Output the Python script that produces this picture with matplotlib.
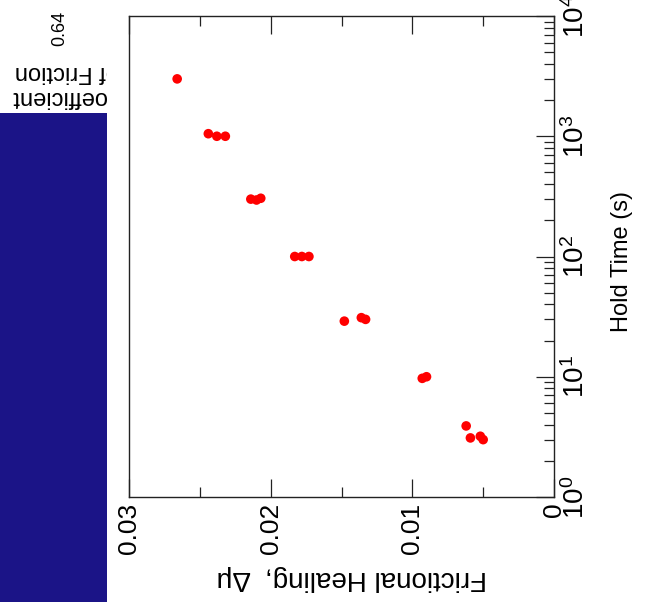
import numpy as np
import matplotlib
matplotlib.use("Agg")
import matplotlib.pyplot as plt
from matplotlib.patches import Rectangle
from matplotlib.ticker import LogLocator, FixedLocator, MultipleLocator, LogFormatterMathtext

plt.rcParams["font.family"] = ["Liberation Sans", "DejaVu Sans"]
plt.rcParams["mathtext.fontset"] = "custom"
plt.rcParams["mathtext.rm"] = "Liberation Sans"
plt.rcParams["mathtext.it"] = "Liberation Sans:italic"

# hold time (s) and frictional healing for each slide-hold-slide test
hold_time = [3000, 1050, 1000, 1000, 300, 295, 305, 100, 100, 100,
             29, 31, 30, 9.7, 10, 3.9, 3.1, 3.2, 3.0]
healing = [0.0266, 0.0244, 0.0238, 0.0232, 0.0214, 0.0210, 0.0207,
           0.0183, 0.0178, 0.0173, 0.0148, 0.0136, 0.0133, 0.0093,
           0.0090, 0.0062, 0.0059, 0.0052, 0.0050]

heal_ticks = [0, 0.01, 0.02, 0.03]
heal_labels = ["0", "0.01", "0.02", "0.03"]

fig = plt.figure(figsize=(6.45, 6.02), dpi=100)

# the panel is drawn turned on its side: healing runs right-to-left, hold time upward
ax = fig.add_axes([129 / 645, 105 / 602, 425 / 645, 481 / 602])
ax.scatter(healing, hold_time, s=48, color="#ff0000", edgecolors="none", zorder=3)

ax.set_xlim(0.03, 0)
ax.set_ylim(1, 1e4)
ax.set_yscale("log")

ax.xaxis.set_major_locator(FixedLocator(heal_ticks))
ax.set_xticklabels(heal_labels)
ax.xaxis.set_minor_locator(MultipleLocator(0.005))
ax.yaxis.set_major_locator(LogLocator(base=10, numticks=10))
ax.yaxis.set_minor_locator(LogLocator(base=10, subs=np.arange(2, 10), numticks=10))
ax.yaxis.set_major_formatter(LogFormatterMathtext())

ax.yaxis.tick_right()
ax.yaxis.set_label_position("right")
ax.tick_params(which="both", direction="in", top=True, bottom=True, left=False, right=True,
               width=0.9, color="#222222")
ax.tick_params(which="major", length=13, pad=4)
ax.tick_params(axis="x", which="major", labelsize=19)
ax.tick_params(axis="y", which="major", labelsize=20, pad=6)
ax.tick_params(which="minor", length=7)
for lab in ax.get_xticklabels():
    lab.set_rotation(90)
    lab.set_va("top")
for lab in ax.get_yticklabels():
    lab.set_rotation(90)
    lab.set_va("center")

for sp in ax.spines.values():
    sp.set_linewidth(1.0)
    sp.set_color("#222222")

ax.set_xlabel("Frictional Healing,  \u0394\u03bc", fontsize=20, rotation=180,
              ha="center", va="center")
ax.xaxis.set_label_coords(0.525, -0.168)
ax.set_ylabel("Hold Time (s)", fontsize=17, rotation=90, ha="center", va="center",
              rotation_mode="default")
ax.yaxis.set_label_coords(1.16, 0.489)

# neighbouring panel: blue strip and its clipped axis text
fig.patches.append(Rectangle((0, 0), 107 / 645, 489 / 602, transform=fig.transFigure,
                             facecolor="#1b1487", edgecolor="none"))

side = fig.add_axes([0, 489 / 602, 107 / 645, 113 / 602])
side.set_xlim(0, 107)
side.set_ylim(113, 0)
side.axis("off")
side.text(60, 28, "0.64", rotation=90, fontsize=13, ha="center", va="center", clip_on=True)
side.text(122, 97, "Coefficient", rotation=180, fontsize=17, ha="right", va="center",
          clip_on=True)
side.text(119, 72, "of Friction", rotation=180, fontsize=17, ha="right", va="center",
          clip_on=True)

fig.savefig("out.png", dpi=100)
